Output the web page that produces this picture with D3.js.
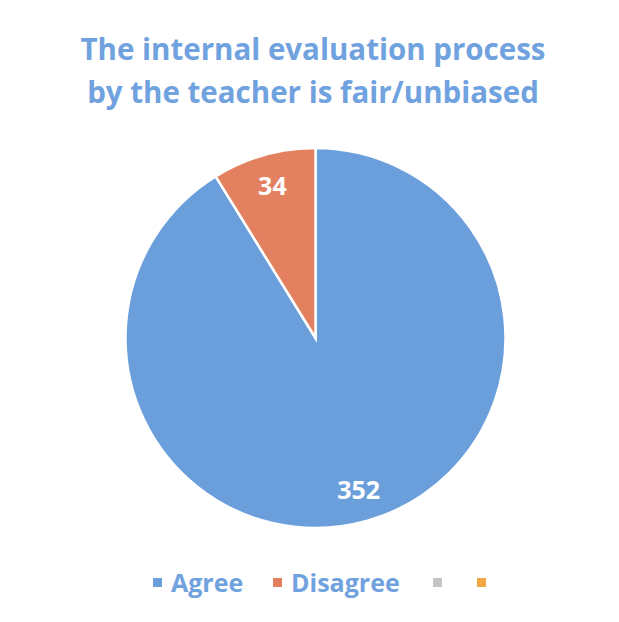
<!DOCTYPE html>
<html>
<head>
<meta charset="utf-8">
<script src="https://cdn.jsdelivr.net/npm/d3@7"></script>
<style>
  body { margin: 0; background: #fff; }
  svg { display: block; }
</style>
</head>
<body>
<div id="chart"></div>
<script>
// data
const titleLines = ['The internal evaluation process', 'by the teacher is fair/unbiased']
const categories = ['Agree', 'Disagree']
const values = [352, 34]
const legendNames = ['Agree', 'Disagree', '', '']
const legendColors = ['#6b9fdc', '#e2805f', '#c4c4c4', '#f3a644']

const width = 619
const height = 622
const cx = 315.5
const cy = 338
const radius = 190

const svg = d3.select('#chart').append('svg')
  .attr('width', width)
  .attr('height', height)

// title
svg.append('g')
  .selectAll('text')
  .data(titleLines)
  .enter()
  .append('text')
    .attr('x', 313)
    .attr('y', (d, i) => 60 + i * 43)
    .attr('text-anchor', 'middle')
    .attr('font-family', 'Open Sans, sans-serif')
    .attr('font-weight', 700)
    .attr('font-size', 29.5)
    .attr('fill', '#6fa2de')
    .text(d => d)

// pie, starting at 12 o'clock going clockwise (like excel)
const pie = d3.pie().sort(null).value(d => d)
const arcs = pie(values)
const arc = d3.arc().innerRadius(0).outerRadius(radius)
const labelArc = d3.arc().innerRadius(radius * 0.83).outerRadius(radius * 0.83)
const color = d3.scaleOrdinal().domain(categories).range(legendColors)

const g = svg.append('g').attr('transform', `translate(${cx},${cy})`)

g.selectAll('path')
  .data(arcs)
  .enter()
  .append('path')
    .attr('d', arc)
    .attr('fill', (d, i) => color(categories[i]))
    .attr('stroke', '#fff')
    .attr('stroke-width', 2.5)

g.selectAll('text')
  .data(arcs)
  .enter()
  .append('text')
    .attr('transform', d => `translate(${labelArc.centroid(d)})`)
    .attr('text-anchor', 'middle')
    .attr('dy', '0.36em')
    .attr('font-family', 'Open Sans, sans-serif')
    .attr('font-weight', 700)
    .attr('font-size', 25)
    .attr('fill', '#fff')
    .text(d => d.data)

// legend
const legendX = [153, 273, 433, 477]
const legend = svg.append('g')
  .selectAll('g')
  .data(legendNames)
  .enter()
  .append('g')
    .attr('transform', (d, i) => `translate(${legendX[i]},583)`)

legend.append('rect')
  .attr('x', 0)
  .attr('y', -5)
  .attr('width', 9)
  .attr('height', 9)
  .attr('fill', (d, i) => legendColors[i])

legend.append('text')
  .attr('x', 18)
  .attr('dy', '0.36em')
  .attr('font-family', 'Open Sans, sans-serif')
  .attr('font-weight', 700)
  .attr('font-size', 25)
  .attr('fill', '#6fa2de')
  .text(d => d)
</script>
</body>
</html>
